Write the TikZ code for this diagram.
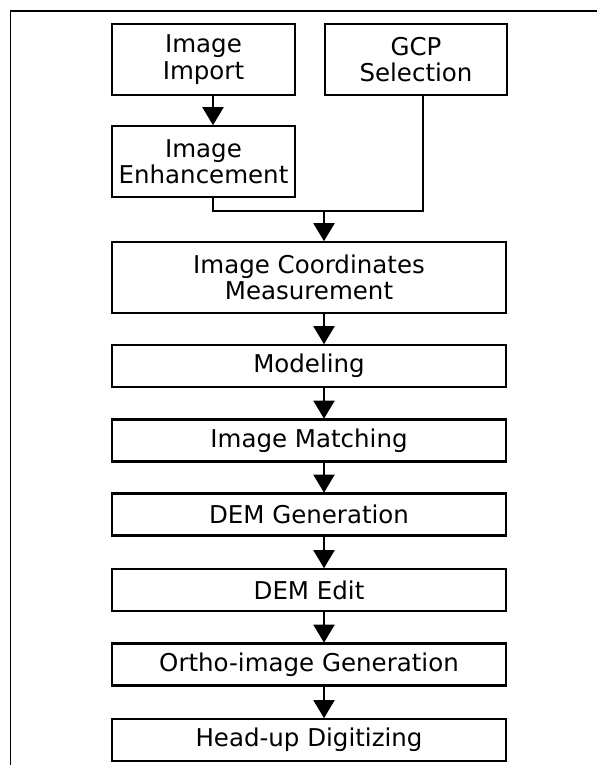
\documentclass[tikz,border=0pt]{standalone}
\usepackage{fontspec}
\setmainfont{DejaVu Sans}
\usetikzlibrary{arrows.meta}

\tikzset{
  stepbox/.style={draw=black, line width=2.6pt, rectangle, inner sep=0pt,
    align=center, font=\fontsize{24.5}{26.5}\selectfont, text=black},
  link/.style={draw=black, line width=2pt},
  flow/.style={link, -{Triangle[width=21pt,length=18pt]}, shorten >=-0.5pt},
  frameline/.style={draw=black, line width=1.6pt}
}

\begin{document}
\begin{tikzpicture}[x=1pt,y=-1pt]
  \useasboundingbox (0,0) rectangle (597,765);

  % outer frame (left and top edges)
  \draw[frameline] (10.5,765) -- (10.5,11) -- (597,11);

  % upper row of inputs
  \node[stepbox, minimum width=183pt, minimum height=71pt] (imp) at (203.5,59.5) {Image\\Import};
  \node[stepbox, minimum width=182pt, minimum height=71pt] (gcp) at (416,59.5) {GCP\\Selection};
  \node[stepbox, minimum width=183pt, minimum height=71pt] (enh) at (203.5,161.5) {Image\\Enhancement};

  % main processing chain
  \node[stepbox, minimum width=394pt, minimum height=71pt] (icm) at (309,277.5) {Image Coordinates\\Measurement};
  \node[stepbox, minimum width=394pt, minimum height=42pt] (mod) at (309,366) {Modeling};
  \node[stepbox, minimum width=394pt, minimum height=42pt] (mat) at (309,440.5) {Image Matching};
  \node[stepbox, minimum width=394pt, minimum height=42pt] (dem) at (309,514.5) {DEM Generation};
  \node[stepbox, minimum width=394pt, minimum height=42pt] (edt) at (309,590) {DEM Edit};
  \node[stepbox, minimum width=394pt, minimum height=42pt] (ort) at (309,664.5) {Ortho-image Generation};
  \node[stepbox, minimum width=394pt, minimum height=42pt] (hud) at (309,740) {Head-up Digitizing};

  % connector axes
  \coordinate (ax1) at (213,0);
  \coordinate (ax2) at (423,0);
  \coordinate (join) at (324,210.5);

  \draw[flow] (imp.south -| ax1) -- (enh.north -| ax1);
  \draw[link] (enh.south -| ax1) |- (join) -| (gcp.south -| ax2);
  \draw[flow] (join) -- (icm.north -| join);

  \draw[flow] (icm.south -| join) -- (mod.north -| join);
  \draw[flow] (mod.south -| join) -- (mat.north -| join);
  \draw[flow] (mat.south -| join) -- (dem.north -| join);
  \draw[flow] (dem.south -| join) -- (edt.north -| join);
  \draw[flow] (edt.south -| join) -- (ort.north -| join);
  \draw[flow] (ort.south -| join) -- (hud.north -| join);
\end{tikzpicture}
\end{document}
